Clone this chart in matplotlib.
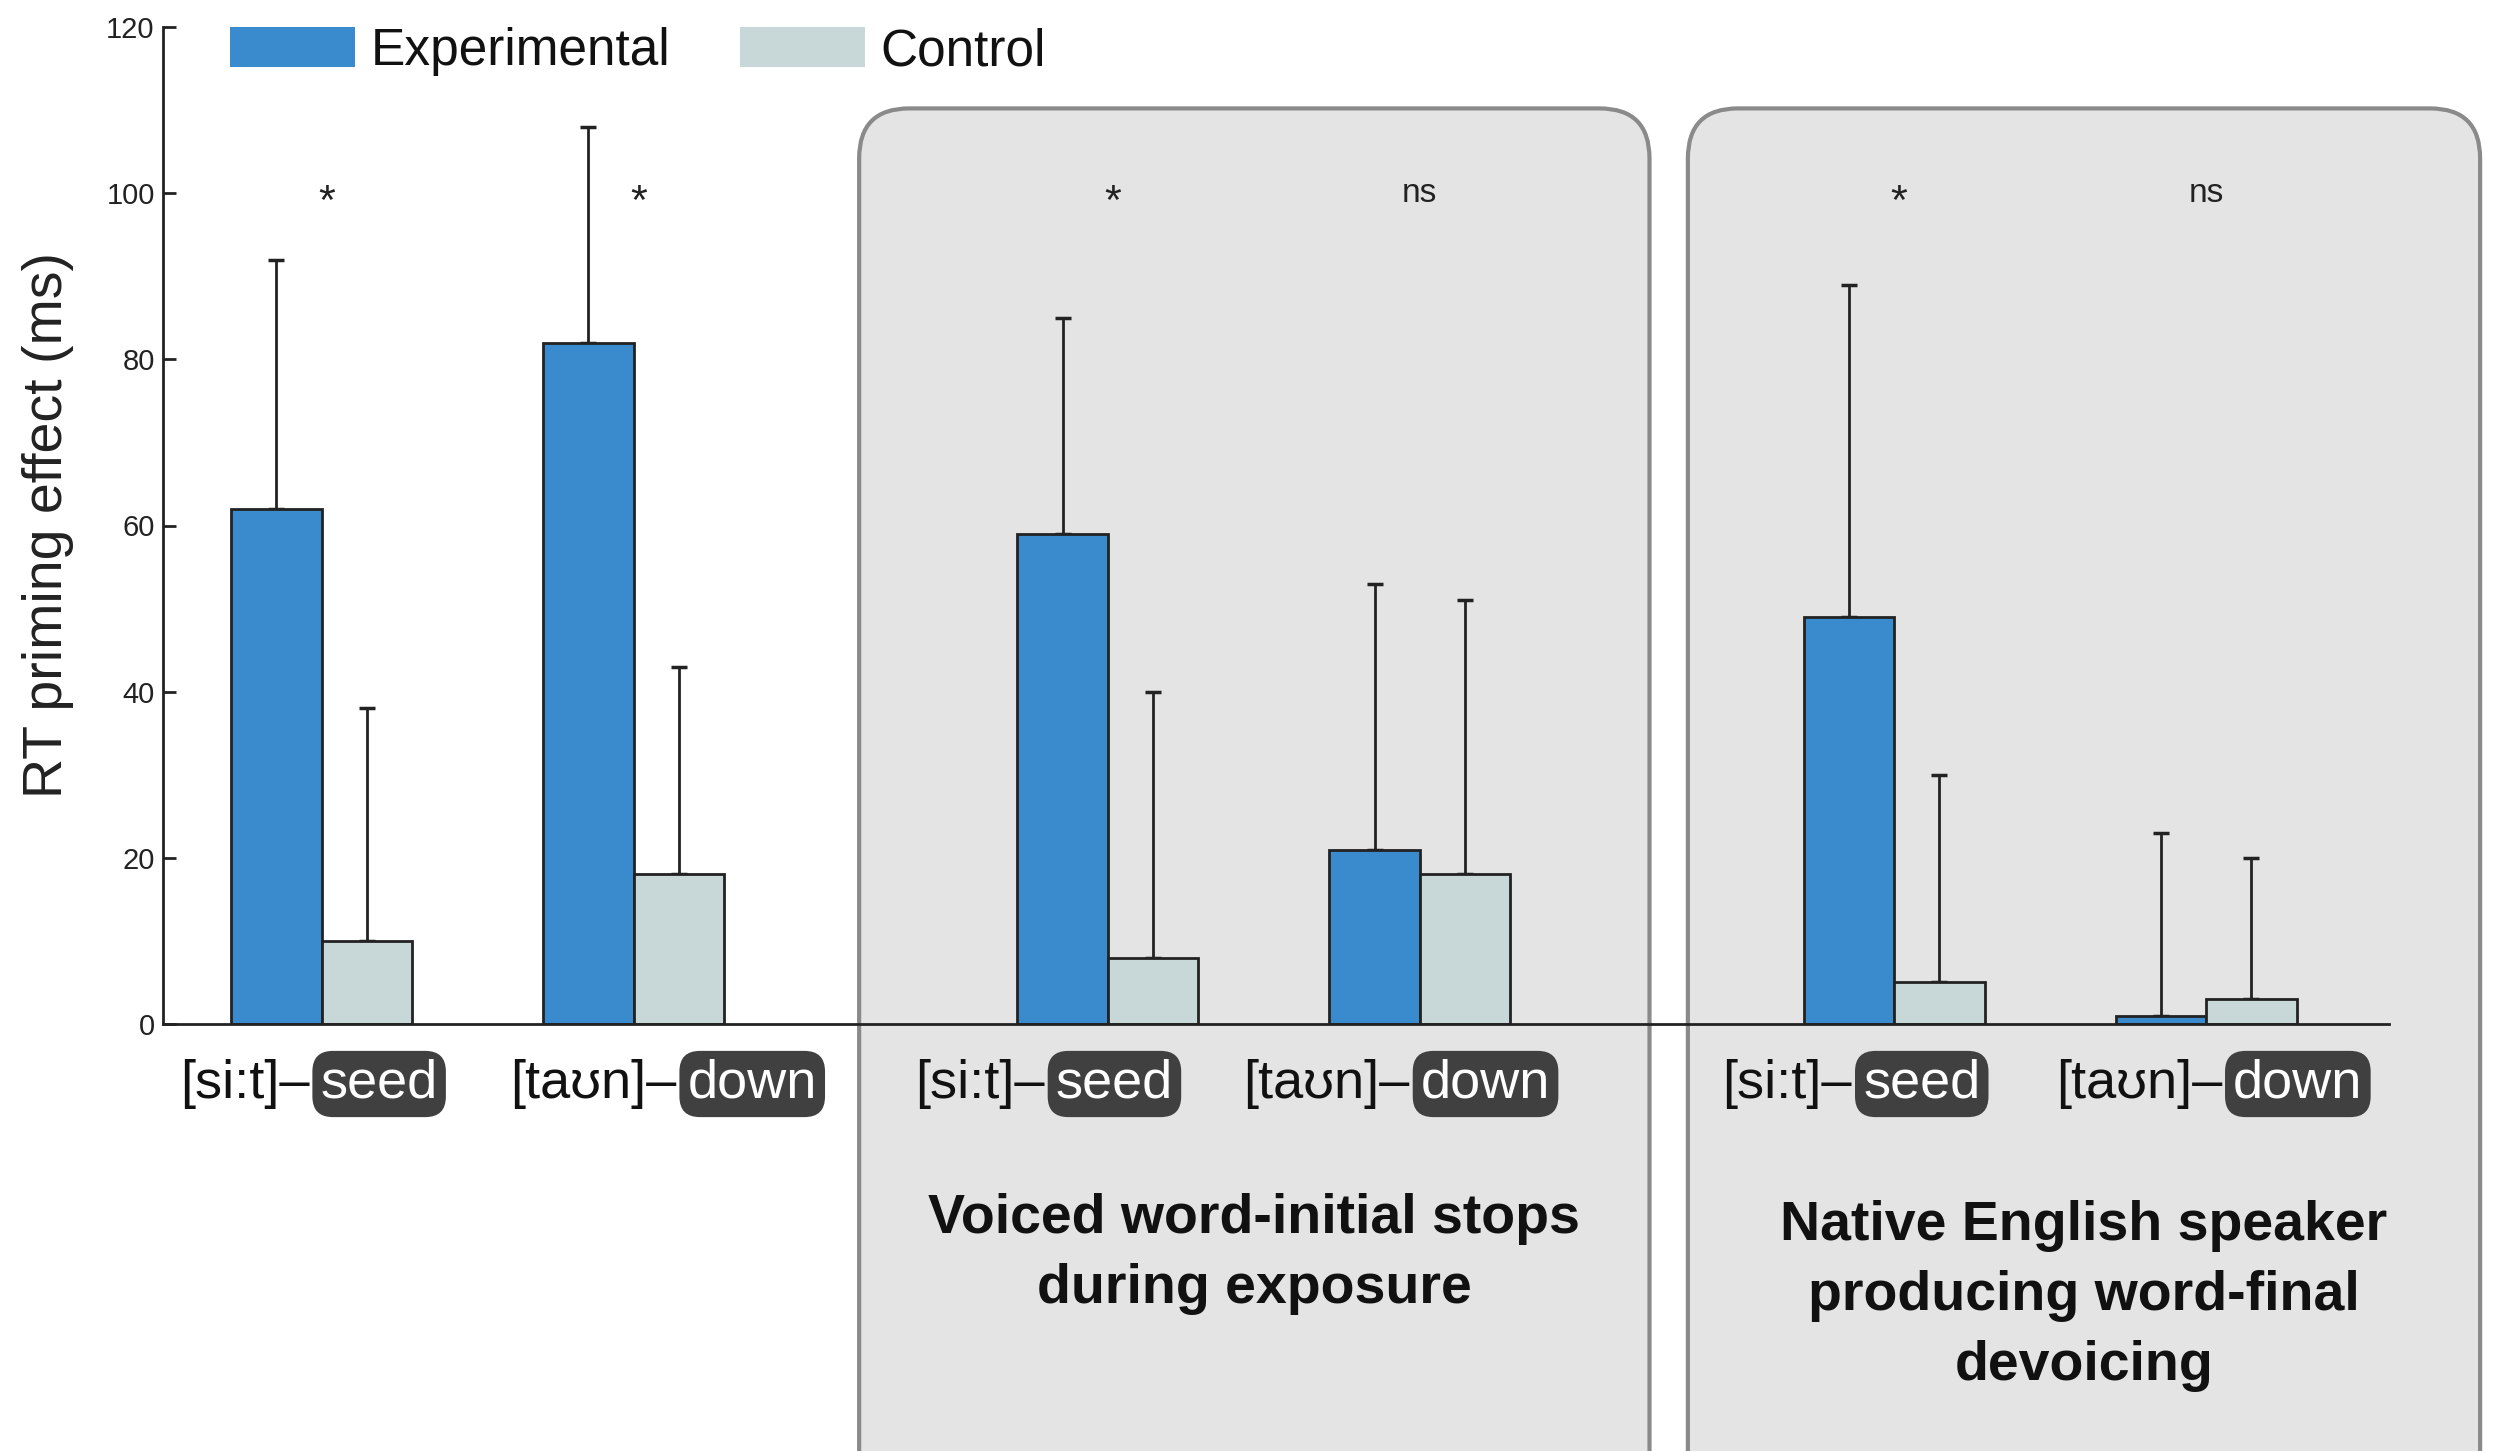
import numpy as np
import matplotlib
matplotlib.use('Agg')
import matplotlib.pyplot as plt
from matplotlib.patches import Patch, FancyBboxPatch
from matplotlib.transforms import IdentityTransform

# ---------------- data ----------------
phon = ['[si:t]–', '[taʊn]–', '[si:t]–', '[taʊn]–', '[si:t]–', '[taʊn]–']
words = ['seed', 'down', 'seed', 'down', 'seed', 'down']
panel = [0, 0, 1, 1, 2, 2]
exp_vals = [62, 82, 59, 21, 49, 1]
exp_err = [30, 26, 26, 32, 40, 22]
ctrl_vals = [10, 18, 8, 18, 5, 3]
ctrl_err = [28, 25, 32, 33, 25, 17]
sig = ['*', '*', '*', 'ns', '*', 'ns']
panel_titles = ['Voiced word-initial stops\nduring exposure',
                'Native English speaker\nproducing word-final\ndevoicing']
series = ['Experimental', 'Control']
yticks = [0, 20, 40, 60, 80, 100, 120]

# ---------------- style / layout ----------------
BLUE = '#3a8bcd'
GREY = '#c8d7d8'
EDGE = '#222222'
BOXFILL = '#e4e4e4'
BOXEDGE = '#8a8a8a'
NARROW = ['Liberation Sans Narrow', 'Liberation Sans', 'DejaVu Sans']
SANS = ['Liberation Sans', 'DejaVu Sans']

W, H, DPI = 2509, 1451, 100
fig = plt.figure(figsize=(W / DPI, H / DPI), dpi=DPI)
ax = fig.add_axes([163 / W, 1 - 1024 / H, (2389 - 163) / W, (1024 - 27) / H])
ax.set_facecolor('none')

pos = np.arange(len(exp_vals)) + 0.52 * np.array(panel)
bw = 0.29
ax.set_xlim(-0.508, 6.626)
ax.set_ylim(0, 120)

ax.bar(pos - bw / 2, exp_vals, bw, color=BLUE, edgecolor=EDGE, linewidth=2, zorder=3)
ax.bar(pos + bw / 2, ctrl_vals, bw, color=GREY, edgecolor=EDGE, linewidth=2, zorder=3)
zeros = np.zeros(len(exp_vals))
ax.errorbar(pos - bw / 2, exp_vals, yerr=[zeros, exp_err], fmt='none', ecolor=EDGE,
            elinewidth=2, capsize=6, capthick=2.5, zorder=2)
ax.errorbar(pos + bw / 2, ctrl_vals, yerr=[zeros, ctrl_err], fmt='none', ecolor=EDGE,
            elinewidth=2, capsize=6, capthick=2.5, zorder=2)

for s in ['top', 'right']:
    ax.spines[s].set_visible(False)
for s in ['left', 'bottom']:
    ax.spines[s].set_linewidth(2)
    ax.spines[s].set_color(EDGE)
    ax.spines[s].set_zorder(4)
ax.set_xticks([])
ax.set_yticks(yticks)
ax.tick_params(axis='y', direction='in', length=9, width=2, color=EDGE, pad=6,
               labelsize=21, labelcolor=EDGE)
for lab in ax.get_yticklabels():
    lab.set_family(SANS)

ax.set_ylabel('RT priming effect (ms)', fontsize=40, family=SANS, color=EDGE)
ax.yaxis.set_label_coords(-0.0517, 0.5)
ax.yaxis.label.set_va('center')

# significance marks
for i, s in enumerate(sig):
    if s == '*':
        ax.text(pos[i] + 0.015, 98.8, s, ha='center', va='center', fontsize=31,
                family=NARROW, color=EDGE, zorder=5)
    else:
        ax.text(pos[i], 100, s, ha='center', va='center', fontsize=24, family=NARROW,
                color=EDGE, zorder=5)

# panel boxes (behind the axes)
box_x = [(1.723, 4.256), (4.379, 6.918)]
box_top = 110.2
for (x0, x1) in box_x:
    p0 = ax.transData.transform((x0, box_top))
    p1 = ax.transData.transform((x1, box_top))
    rect = FancyBboxPatch((p0[0], -60), p1[0] - p0[0], p0[1] + 60,
                          boxstyle='round,pad=0,rounding_size=50',
                          transform=IdentityTransform(), facecolor=BOXFILL,
                          edgecolor=BOXEDGE, linewidth=3, zorder=-5)
    fig.add_artist(rect)

# panel titles
title_y = [1 - 1254 / H, 1 - 1296 / H]
for (x0, x1), t, ty in zip(box_x, panel_titles, title_y):
    xc = ax.transData.transform(((x0 + x1) / 2, 0))[0] / W
    fig.text(xc, ty, t, ha='center', va='center', multialignment='center',
             fontsize=40, fontweight='bold', family=NARROW, color='#111111',
             linespacing=1.45)

# category labels
shift = [-10, 45, -61, -8, -40, 18]
for i in range(len(phon)):
    ax.annotate(phon[i], xy=(pos[i], 0), xycoords='data',
                xytext=(shift[i] - 2, -74), textcoords='offset pixels',
                ha='right', va='baseline', fontsize=39, family=NARROW,
                color='#111111', annotation_clip=False)
    ax.annotate(words[i], xy=(pos[i], 0), xycoords='data',
                xytext=(shift[i] + 9, -74), textcoords='offset pixels',
                ha='left', va='baseline', fontsize=39, family=NARROW,
                color='white', annotation_clip=False,
                bbox=dict(boxstyle='round,pad=0.15,rounding_size=0.38',
                          facecolor='#404040', edgecolor='none'))

# legend
handles = [Patch(facecolor=BLUE, edgecolor='none'), Patch(facecolor=GREY, edgecolor='none')]
leg = ax.legend(handles, series, ncol=2, loc='upper left',
                bbox_to_anchor=(0.0301, 1.0), frameon=False,
                handlelength=2.43, handleheight=0.83, handletextpad=0.3,
                columnspacing=1.36, borderpad=0, borderaxespad=0,
                prop={'family': NARROW, 'size': 37})
for t in leg.get_texts():
    t.set_color('#111111')

fig.savefig('out.png', dpi=DPI)
